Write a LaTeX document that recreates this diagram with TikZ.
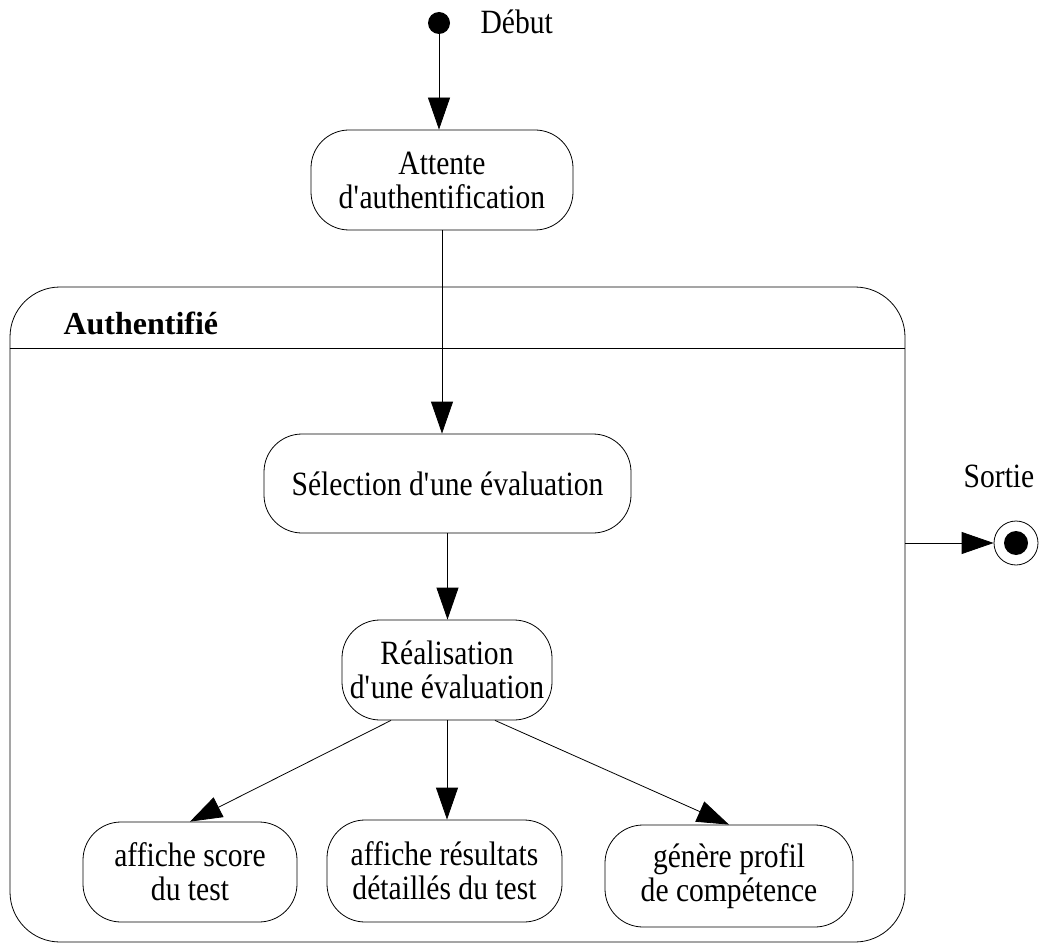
\documentclass[tikz,border=0pt]{standalone}
\usepackage{fontspec}
\setmainfont[FakeStretch=0.87]{Liberation Serif}
\newfontfamily\headfont{Liberation Serif}
\usetikzlibrary{arrows.meta}
\newcommand{\apos}{\textquotesingle}
\begin{document}
\begin{tikzpicture}[x=1pt,y=-1pt,
  every node/.style={font=\fontsize{34}{34}\selectfont},
  state/.style={draw,line width=0.8pt,rounded corners=38pt,align=center,inner sep=0pt},
  flow/.style={line width=0.8pt,-{Triangle[length=32pt,width=22pt]}}]
\useasboundingbox (0,0) rectangle (1042,944);

% initial pseudo-state
\node[circle,fill=black,minimum size=22pt,inner sep=0pt] (start) at (439,23) {};
\node[anchor=west] (debut) at (477,22) {Début};

\node[state,minimum width=262pt,minimum height=100pt] (att) at (442,180)
  {Attente\\d\apos authentification};

% composite state
\node[draw,line width=0.8pt,rounded corners=50pt,minimum width=895pt,minimum height=655pt,inner sep=0pt]
  (cont) at (457.5,614.5) {};
\draw[line width=0.8pt] (cont.west |- 0,348) coordinate (sepw) -- (cont.east |- 0,348) coordinate (sepe);
\node[anchor=west,font=\headfont\fontsize{32}{33}\selectfont\bfseries] (title) at (60,323) {Authentifié};

\node[state,minimum width=367pt,minimum height=99pt] (sel) at (447.5,483.5)
  {Sélection d\apos une évaluation};
\node[state,minimum width=210pt,minimum height=100pt] (real) at (447,670)
  {Réalisation\\d\apos une évaluation};

\node[state,minimum width=214pt,minimum height=100pt] (b1) at (190,872)
  {affiche score\\du test};
\node[state,minimum width=235pt,minimum height=102pt] (b2) at (444.5,871)
  {affiche résultats\\détaillés du test};
\node[state,minimum width=248pt,minimum height=102pt] (b3) at (729,876)
  {génère profil\\de compétence};

% final pseudo-state
\node[circle,draw,line width=0.8pt,minimum size=44pt,inner sep=0pt] (fin) at (1016,543) {};
\node[circle,fill=black,minimum size=24pt,inner sep=0pt] (fincore) at (fin) {};
\node (sortie) at (999,476) {Sortie};

% transitions
\draw[flow] (start) -- (start |- att.north);
\draw[flow] (att.south) -- (att.south |- sel.north);
\draw[flow] (sel.south) -- (sel.south |- real.north);
\draw[flow] ([xshift=-56pt]real.south) -- (b1.north);
\draw[flow] (real.south) -- (real.south |- b2.north);
\draw[flow] ([xshift=48pt]real.south) -- (b3.north);
\draw[flow] (cont.east |- fin) -- (fin);
\end{tikzpicture}
\end{document}
